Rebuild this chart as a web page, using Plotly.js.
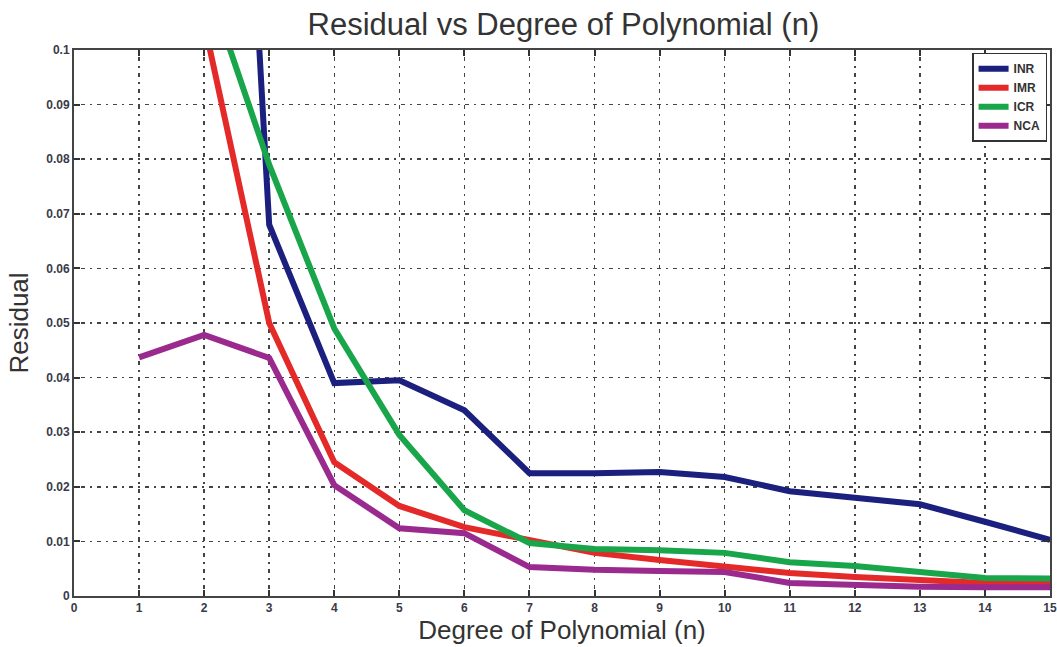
<!DOCTYPE html>
<html>
<head>
<meta charset="utf-8">
<script src="https://cdn.plot.ly/plotly-3.0.1.min.js"></script>
<style>html,body{margin:0;padding:0;background:#fff;}#chart{width:1057px;height:647px;}</style>
</head>
<body>
<div id="chart"></div>
<script>
const nINR = [2, 3, 4, 5, 6, 7, 8, 9, 10, 11, 12, 13, 14, 15];
const INR  = [0.28, 0.068, 0.039, 0.0395, 0.034, 0.0225, 0.0225, 0.0227, 0.0218, 0.0192, 0.018, 0.0168, 0.0136, 0.0103];
const nIMR = [2, 3, 4, 5, 6, 7, 8, 9, 10, 11, 12, 13, 14, 15];
const IMR  = [0.105, 0.050, 0.0245, 0.0165, 0.0126, 0.0103, 0.0079, 0.0066, 0.0053, 0.0042, 0.0035, 0.003, 0.0024, 0.0024];
const nICR = [2, 3, 4, 5, 6, 7, 8, 9, 10, 11, 12, 13, 14, 15];
const ICR  = [0.114, 0.079, 0.049, 0.0295, 0.0157, 0.0097, 0.0086, 0.0084, 0.0079, 0.0062, 0.0055, 0.0045, 0.0033, 0.0032];
const nNCA = [1, 2, 3, 4, 5, 6, 7, 8, 9, 10, 11, 12, 13, 14, 15];
const NCA  = [0.0437, 0.0478, 0.0436, 0.0203, 0.0124, 0.0115, 0.0053, 0.0048, 0.0046, 0.0044, 0.0024, 0.002, 0.0017, 0.0016, 0.0016];
const xTicks = [0,1,2,3,4,5,6,7,8,9,10,11,12,13,14,15];
const yTicks = [0,0.01,0.02,0.03,0.04,0.05,0.06,0.07,0.08,0.09,0.1];
const yTickText = ['0','0.01','0.02','0.03','0.04','0.05','0.06','0.07','0.08','0.09','0.1'];

const mk = (x, y, name, color) => ({x, y, name, type:'scatter', mode:'lines', line:{color, width:6}, cliponaxis:true});
const data = [
  mk(nINR, INR, 'INR', '#1b1f7e'),
  mk(nIMR, IMR, 'IMR', '#e42a28'),
  mk(nICR, ICR, 'ICR', '#19a64a'),
  mk(nNCA, NCA, 'NCA', '#9a2a8e')
];
const FAM = 'Liberation Sans, Arial, sans-serif';
const tickFont = {family:FAM, size:12, color:'#3a3a48', weight:'bold'};
const gridDash = '2px,5px,4px,5px';
const layout = {
  width:1057, height:647,
  margin:{l:74, r:7, t:50, b:51},
  paper_bgcolor:'#fff', plot_bgcolor:'#fff',
  title:{text:'Residual vs Degree of Polynomial (n)', x:0.533, xanchor:'center', y:0.963, yanchor:'middle',
         font:{family:FAM, size:31, color:'#333'}},
  xaxis:{range:[0,15], tickvals:xTicks, ticktext:xTicks.map(String), ticks:'inside', ticklen:6, tickwidth:2, tickcolor:'#333',
         showline:true, linecolor:'#444', linewidth:2, mirror:'ticks', showgrid:true, gridcolor:'#444', griddash:gridDash, gridwidth:1.5,
         zeroline:false, tickfont:tickFont,
         title:{text:'Degree of Polynomial (n)', standoff:0, font:{family:FAM, size:26, color:'#333'}}},
  yaxis:{range:[0,0.1], tickvals:yTicks, ticktext:yTickText, ticks:'inside', ticklen:6, tickwidth:2, tickcolor:'#333',
         showline:true, linecolor:'#444', linewidth:2, mirror:'ticks', showgrid:true, gridcolor:'#444', griddash:gridDash, gridwidth:1.5,
         zeroline:false, tickfont:tickFont,
         title:{text:'Residual', standoff:10, font:{family:FAM, size:26, color:'#333'}}},
  legend:{x:0.997, y:0.995, xanchor:'right', yanchor:'top', bgcolor:'#fff', bordercolor:'#333', borderwidth:1.5,
          font:{family:FAM, size:12, color:'#333', weight:'bold'},
          tracegroupgap:0, itemwidth:30},
  showlegend:true
};
Plotly.newPlot('chart', data, layout, {displayModeBar:false, staticPlot:true});
</script>
</body>
</html>
